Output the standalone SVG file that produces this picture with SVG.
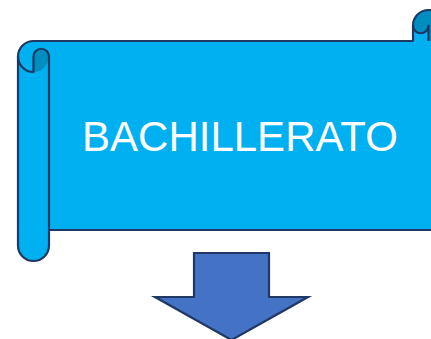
<svg xmlns="http://www.w3.org/2000/svg" width="431" height="339" viewBox="0 0 431 339">
<style>
.body{fill:#00B0F0;stroke:none}
.dark{fill:#008DC0;stroke:none}
.line{fill:none;stroke:#1F3864;stroke-width:2.2;stroke-linejoin:round}
.arrow{fill:#4472C4;stroke:#1F3864;stroke-width:2.2;stroke-linejoin:miter}
.label{fill:#FFFFFF;font-family:"Liberation Sans",Arial,sans-serif;font-size:42px;text-anchor:middle}
</style>
<g id="scroll">
<path class="body" d="M 33.5 41 L 413 41 L 413 25.5 A 15.5 15.5 0 0 1 444 25.5 L 444 214.5 A 15.5 15.5 0 0 1 428.5 230 L 49 230 L 49 245.5 A 15.5 15.5 0 0 1 18 245.5 L 18 56.5 A 15.5 15.5 0 0 1 33.5 41 Z"/>
<path class="dark" d="M 33.5 72 A 15.5 15.5 0 0 0 49 56.5 A 7.75 7.75 0 0 0 33.5 56.5 Z"/>
<path class="dark" d="M 428.5 41 A 15.5 15.5 0 1 0 413 25.5 A 7.75 7.75 0 0 0 428.5 25.5 Z"/>
<path class="line" d="M 33.5 41 L 413 41 L 413 25.5 A 15.5 15.5 0 0 1 444 25.5 L 444 214.5 A 15.5 15.5 0 0 1 428.5 230 L 49 230 L 49 245.5 A 15.5 15.5 0 0 1 18 245.5 L 18 56.5 A 15.5 15.5 0 0 1 33.5 41 Z"/>
<path class="line" d="M 18 56.5 A 15.5 15.5 0 0 0 33.5 72 L 33.5 56.5 A 7.75 7.75 0 0 1 49 56.5 L 49 230"/>
<path class="line" d="M 413 25.5 A 7.75 7.75 0 0 0 428.5 25.5 L 428.5 41"/>
<text class="label" x="240" y="151">BACHILLERATO</text>
</g>
<g id="arrow">
<path class="arrow" d="M 194 253 L 269 253 L 269 297 L 308 297 L 231.5 340 L 155 297 L 194 297 Z"/>
</g>
</svg>
